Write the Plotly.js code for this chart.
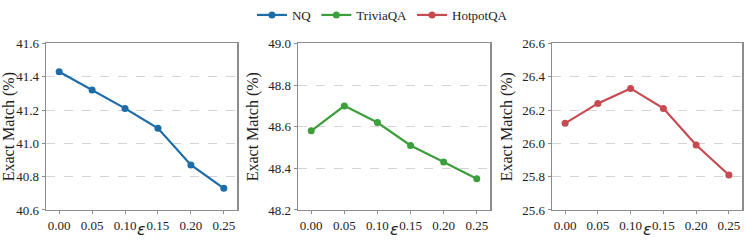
<!DOCTYPE html>
<html>
<head>
<meta charset="utf-8">
<script src="https://cdn.plot.ly/plotly-3.0.1.min.js"></script>
<style>html,body{margin:0;padding:0;background:#fff;}#chart{width:747px;height:243px;}</style>
</head>
<body>
<div id="chart"></div>
<script>
const epsilon = [0.00, 0.05, 0.10, 0.15, 0.20, 0.25];
const xTickLabels = ["0.00", "0.05", "0.10", "0.15", "0.20", "0.25"];
const nqValues = [41.43, 41.32, 41.21, 41.09, 40.87, 40.73];
const triviaValues = [48.58, 48.70, 48.62, 48.51, 48.43, 48.35];
const hotpotValues = [26.12, 26.24, 26.33, 26.21, 25.99, 25.81];
const seriesNames = ["NQ", "TriviaQA", "HotpotQA"];
const seriesColors = ["#1c6ca8", "#3c9f3c", "#c64a50"];
const yRanges = [[40.6, 41.6], [48.2, 49.0], [25.6, 26.6]];
const xTitle = "ε";
const yTitle = "Exact Match (%)";

const seriesValues = [nqValues, triviaValues, hotpotValues];
const domainsX = [[46/747, 237/747], [298/747, 490/747], [552/747, 742/747]];
const yDomain = [1 - 209/243, 1 - 37.5/243];
const serif = "Times New Roman";

const traces = seriesValues.map((vals, i) => ({
  x: epsilon, y: vals, name: seriesNames[i], type: "scatter", mode: "lines+markers",
  xaxis: i === 0 ? "x" : "x" + (i + 1), yaxis: i === 0 ? "y" : "y" + (i + 1),
  line: {color: seriesColors[i], width: 2.2},
  marker: {color: seriesColors[i], size: 7}
}));

const layout = {
  width: 747, height: 243,
  margin: {l: 0, r: 0, t: 0, b: 0},
  paper_bgcolor: "#fff", plot_bgcolor: "#fff",
  font: {family: serif, size: 12, color: "#222"},
  showlegend: true,
  legend: {orientation: "h", x: 0.512, xanchor: "center", y: 1.03, yanchor: "top",
    font: {family: serif, size: 13, color: "#222"}, itemwidth: 30, tracegroupgap: 0,
    bgcolor: "rgba(0,0,0,0)"},
  annotations: []
};

for (let i = 0; i < 3; i++) {
  const sx = i === 0 ? "" : String(i + 1);
  layout["xaxis" + sx] = {
    domain: domainsX[i], anchor: "y" + sx, range: [-0.02, 0.27],
    tickmode: "array", tickvals: epsilon, ticktext: xTickLabels,
    showline: true, mirror: true, linecolor: "#8c8c8c", linewidth: 1.5,
    ticks: "outside", ticklen: 3, tickcolor: "#8c8c8c", tickwidth: 1,
    showgrid: false, zeroline: false,
    tickfont: {family: serif, size: 13, color: "#222"}
  };
  layout["yaxis" + sx] = {
    domain: yDomain, anchor: "x" + sx, range: yRanges[i], dtick: 0.2, tick0: yRanges[i][0], tickformat: ".1f",
    showline: true, mirror: true, linecolor: "#8c8c8c", linewidth: 1.5,
    ticks: "outside", ticklen: 3, tickcolor: "#8c8c8c", tickwidth: 1,
    showgrid: true, gridcolor: "#d4d4d4", griddash: "dash", gridwidth: 1, zeroline: false,
    tickfont: {family: serif, size: 13, color: "#222"},
    title: {text: yTitle, font: {family: serif, size: 16, color: "#222"}, standoff: 5}
  };
  layout.annotations.push({
    xref: "x" + sx + " domain", yref: "paper", x: 0.5, y: 1 - 229/243,
    xanchor: "center", yanchor: "middle", showarrow: false,
    text: "<i>" + xTitle + "</i>", font: {family: "DejaVu Sans", size: 16, color: "#222"}
  });
}

Plotly.newPlot("chart", traces, layout, {displayModeBar: false, staticPlot: true});
</script>
</body>
</html>
